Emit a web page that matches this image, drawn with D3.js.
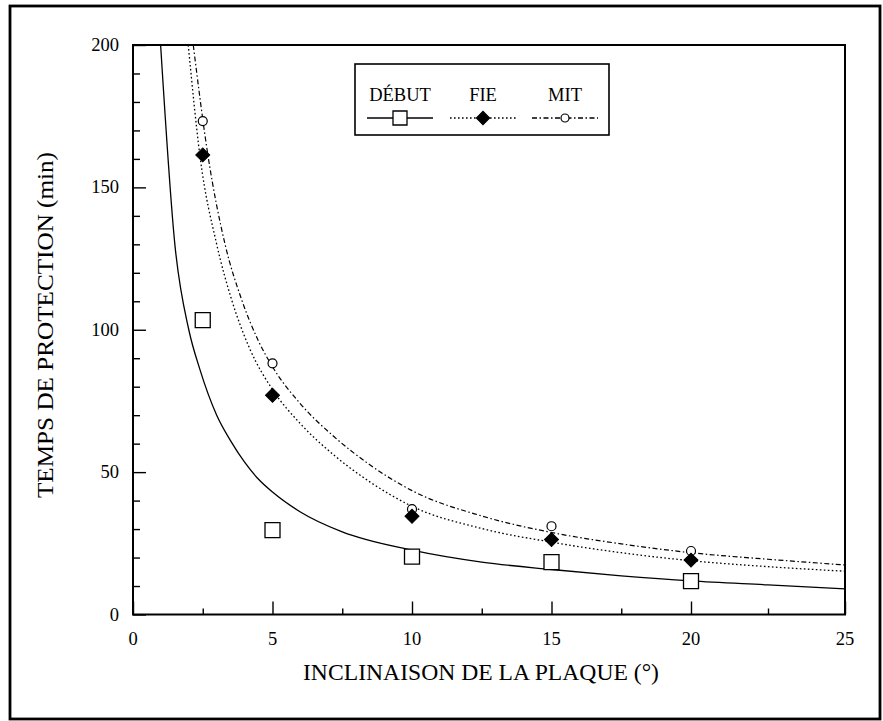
<!DOCTYPE html>
<html>
<head>
<meta charset="utf-8">
<script src="https://cdn.jsdelivr.net/npm/d3@7"></script>
<style>
  html, body { margin: 0; padding: 0; background: #fff; }
  svg { display: block; }
  text { font-family: "Liberation Serif", "DejaVu Serif", serif; fill: #000; }
</style>
</head>
<body>
<svg id="chart" width="883" height="721"></svg>
<script>
// ---------- data ----------
const seriesNames = ["DÉBUT", "FIE", "MIT"];
const pointX = [2.5, 5, 10, 15, 20];
const debutPoints = [103.4, 29.6, 20.3, 18.4, 11.7];
const fiePoints   = [161.4, 77.0, 34.5, 26.3, 19.1];
const mitPoints   = [173.3, 88.2, 37.0, 31.0, 22.3];

// fitted curves
const debutCurveX = [0.99, 1.5, 2.0, 2.4, 3.0, 3.5, 4.0, 4.5, 5, 6, 7.5, 10, 12.5, 15, 17.5, 20, 22.5, 25];
const debutCurveY = [200, 130, 100, 86, 70, 61, 53.5, 47.5, 43, 36, 29, 22.6, 18.4, 15.8, 13.6, 11.8, 10.4, 9.0];
const fieCurveX = [1.98, 2.4, 3.0, 3.54, 4.2, 5, 6, 7.2, 8.5, 10, 12.5, 15, 17.5, 20, 22.5, 25];
const fieCurveY = [200, 161, 130, 110.4, 93, 79, 67, 56, 46.5, 38, 30.2, 25.4, 21.7, 18.9, 16.8, 15.2];
const mitCurveX = [2.16, 2.69, 3.3, 3.9, 4.5, 5, 6, 7.2, 8.5, 10, 12.5, 15, 17.5, 20, 22.5, 25];
const mitCurveY = [200, 161, 130, 110.4, 96, 87, 74, 62.5, 52.5, 43.5, 34.6, 28.8, 24.8, 21.7, 19.4, 17.4];

const xTicks = [0, 5, 10, 15, 20, 25];
const xMinorTicks = [2.5, 7.5, 12.5, 17.5, 22.5];
const yTicks = [0, 50, 100, 150, 200];
const yMinorTicks = [10, 20, 30, 40, 60, 70, 80, 90, 110, 120, 130, 140, 160, 170, 180, 190];
const xTitle = "INCLINAISON DE LA PLAQUE (°)";
const yTitle = "TEMPS DE PROTECTION (min)";

// ---------- layout ----------
const svg = d3.select("#chart");
const plot = { left: 133, right: 845, top: 45, bottom: 614.5 };

// the scanned axis is slightly stretched in its last interval
const x = d3.scaleLinear().domain([0, 20, 25]).range([plot.left, 691, plot.right]);
const y = d3.scaleLinear().domain([0, 200]).range([plot.bottom, plot.top]);

// outer frame
svg.append("rect")
  .attr("x", 10).attr("y", 6).attr("width", 870).attr("height", 713)
  .attr("fill", "none").attr("stroke", "#000").attr("stroke-width", 2.8);

// clip
svg.append("defs").append("clipPath").attr("id", "clip")
  .append("rect")
  .attr("x", plot.left).attr("y", plot.top)
  .attr("width", plot.right - plot.left).attr("height", plot.bottom - plot.top);

// ---------- curves ----------
const line = d3.line().x(d => x(d[0])).y(d => y(d[1])).curve(d3.curveMonotoneX);
const curves = [
  { xs: debutCurveX, ys: debutCurveY, dash: null, w: 1.3 },
  { xs: fieCurveX, ys: fieCurveY, dash: "1.6,2.4", w: 1.3 },
  { xs: mitCurveX, ys: mitCurveY, dash: "5,2.5,1.5,2.5", w: 1.2 }
];
const gc = svg.append("g").attr("clip-path", "url(#clip)");
curves.forEach(c => {
  gc.append("path")
    .datum(c.xs.map((v, i) => [v, c.ys[i]]))
    .attr("d", line)
    .attr("fill", "none")
    .attr("stroke", "#000")
    .attr("stroke-width", c.w)
    .attr("stroke-dasharray", c.dash);
});

// ---------- axes ----------
const xAxisMajor = d3.axisTop(x).tickValues(xTicks).tickSize(13).tickFormat("");
const xAxisMinor = d3.axisTop(x).tickValues(xMinorTicks).tickSize(6).tickFormat("");
const yAxisMajor = d3.axisRight(y).tickValues(yTicks).tickSize(13).tickFormat("");
const yAxisMinor = d3.axisRight(y).tickValues(yMinorTicks).tickSize(7).tickFormat("");

function styleAxis(g) {
  g.select(".domain").remove();
  g.selectAll("text").remove();
  g.selectAll("line").attr("stroke", "#000").attr("stroke-width", 1.4);
}
svg.append("g").attr("transform", `translate(0,${plot.bottom})`).call(xAxisMajor).call(styleAxis);
svg.append("g").attr("transform", `translate(0,${plot.bottom})`).call(xAxisMinor).call(styleAxis);
svg.append("g").attr("transform", `translate(${plot.left},0)`).call(yAxisMajor).call(styleAxis);
svg.append("g").attr("transform", `translate(${plot.left},0)`).call(yAxisMinor).call(styleAxis);

// plot frame
svg.append("rect")
  .attr("x", plot.left).attr("y", plot.top)
  .attr("width", plot.right - plot.left).attr("height", plot.bottom - plot.top)
  .attr("fill", "none").attr("stroke", "#000").attr("stroke-width", 2);

// tick labels
svg.append("g").selectAll("text").data(xTicks).join("text")
  .attr("x", d => x(d)).attr("y", 645)
  .attr("text-anchor", "middle")
  .attr("font-size", 18.5)
  .text(d => d);
svg.append("g").selectAll("text").data(yTicks).join("text")
  .attr("x", 119).attr("y", d => y(d) + 6)
  .attr("text-anchor", "end")
  .attr("font-size", 18.5)
  .text(d => d);

// axis titles
svg.append("text")
  .attr("x", 481).attr("y", 680)
  .attr("text-anchor", "middle")
  .attr("font-size", 22.5)
  .attr("textLength", 356).attr("lengthAdjust", "spacingAndGlyphs")
  .text(xTitle);
svg.append("text")
  .attr("transform", "translate(53,325) rotate(-90)")
  .attr("text-anchor", "middle")
  .attr("font-size", 22.5)
  .attr("textLength", 346).attr("lengthAdjust", "spacingAndGlyphs")
  .text(yTitle);

// ---------- markers ----------
const dia = d3.symbol().type(d3.symbolSquare);
function drawSquare(g, cx, cy, s) {
  g.append("path").attr("d", d3.symbol().type(d3.symbolSquare).size(s * s)())
    .attr("transform", `translate(${cx},${cy})`)
    .attr("fill", "#fff").attr("stroke", "#000").attr("stroke-width", 1.3);
}
function drawDiamond(g, cx, cy, s) {
  g.append("path").attr("d", dia.size(s)())
    .attr("transform", `translate(${cx},${cy}) rotate(45)`)
    .attr("fill", "#000").attr("stroke", "#000").attr("stroke-width", 1);
}
function drawCircle(g, cx, cy, r) {
  g.append("circle").attr("cx", cx).attr("cy", cy).attr("r", r)
    .attr("fill", "#fff").attr("stroke", "#000").attr("stroke-width", 1.2);
}
const gm = svg.append("g");
pointX.forEach((px, i) => drawCircle(gm, x(px), y(mitPoints[i]), 4.5));
pointX.forEach((px, i) => drawDiamond(gm, x(px), y(fiePoints[i]), 98));
pointX.forEach((px, i) => drawSquare(gm, x(px), y(debutPoints[i]), 15));

// ---------- legend ----------
const lg = svg.append("g");
lg.append("rect").attr("x", 355).attr("y", 64).attr("width", 254).attr("height", 71)
  .attr("fill", "#fff").attr("stroke", "#000").attr("stroke-width", 1.6);
const legendCx = [400, 483, 565];
const legendDash = [null, "1.6,2.4", "5,2.5,1.5,2.5"];
seriesNames.forEach((name, i) => {
  lg.append("text").attr("x", legendCx[i]).attr("y", 101).attr("text-anchor", "middle")
    .attr("font-size", 18.5).text(name);
  lg.append("line").attr("x1", legendCx[i] - 33).attr("x2", legendCx[i] + 33)
    .attr("y1", 118).attr("y2", 118)
    .attr("stroke", "#000").attr("stroke-width", 1.3)
    .attr("stroke-dasharray", legendDash[i]);
});
drawSquare(lg, legendCx[0], 118, 14);
drawDiamond(lg, legendCx[1], 118, 90);
drawCircle(lg, legendCx[2], 118, 4);
</script>
</body>
</html>
